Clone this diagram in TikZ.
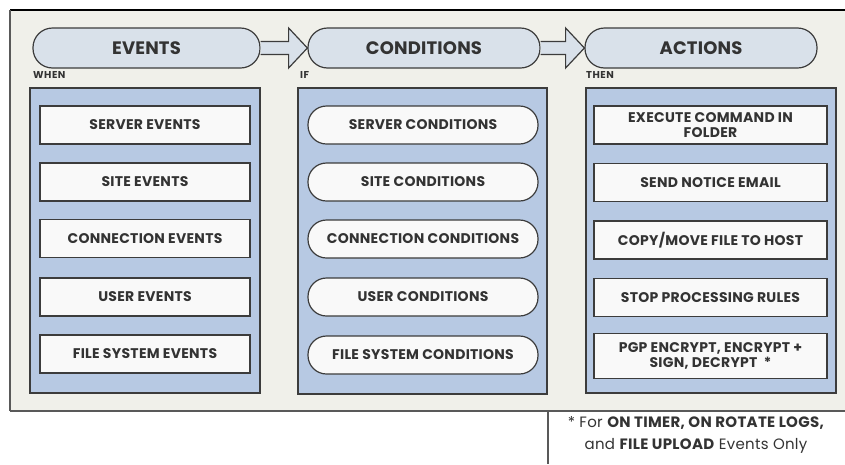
\documentclass[tikz,border=0pt]{standalone}
\usepackage{fontspec}
\setmainfont{Poppins}
\usetikzlibrary{calc}
\definecolor{panel}{HTML}{F0F0EA}
\definecolor{lane}{HTML}{B7C9E3}
\definecolor{headfill}{HTML}{D9E1EA}
\definecolor{itemfill}{HTML}{F9F9F9}
\definecolor{edge}{HTML}{3C3C3C}
\definecolor{ink}{HTML}{333333}
\tikzset{
  header/.style={draw=edge, line width=1.2pt, fill=headfill, rounded corners=19.5pt,
    minimum height=40pt, inner sep=0pt, text=ink,
    font=\fontsize{18}{18}\selectfont\bfseries\addfontfeature{LetterSpace=1}},
  lanebox/.style={draw=edge, line width=1.2pt, fill=lane, inner sep=0pt},
  itembox/.style={draw=edge, line width=1.2pt, fill=itemfill, minimum height=38pt,
    inner sep=0pt, text=ink, align=center,
    font=\fontsize{14}{15}\selectfont\bfseries\addfontfeature{LetterSpace=2}},
  itemcap/.style={itembox, rounded corners=18.5pt},
  tag/.style={anchor=west, inner sep=0pt, text=ink,
    font=\fontsize{10}{10}\selectfont\bfseries\addfontfeature{LetterSpace=5}},
  blockarrow/.style={draw=edge, line width=1.2pt, fill=headfill, line join=miter},
}
\begin{document}
\begin{tikzpicture}[x=1pt, y=-1pt]
\useasboundingbox (0,0) rectangle (845,464);
% background panel and footnote box
\fill[white] (0,0) rectangle (845,464);
\fill[panel] (10,10) rectangle (845,411);
\draw[black, line width=1.6pt] (10,10) -- (845,10);
\draw[gray!70!black, line width=1.2pt] (10,10) -- (10,411);
\draw[gray!70!black, line width=1.8pt] (10,411) -- (845,411);
\node[draw=none, fill=white, minimum width=297pt, minimum height=52pt, anchor=north west, inner sep=0pt] (note) at (548,412) {};
\draw[gray!70!black, line width=1.2pt] (note.north west) -- (note.south west);
\node[anchor=center, align=center, text=ink,
  font=\fontsize{15}{22}\selectfont\addfontfeature{LetterSpace=2}] (notetext) at (696,435)
  {* For \textbf{ON TIMER, ON ROTATE LOGS,}\\ and \textbf{FILE UPLOAD} Events Only};

% stage headers
\node[header, minimum width=227pt] (ev) at (146.5,48) {EVENTS};
\node[header, minimum width=232pt] (co) at (424,48) {CONDITIONS};
\node[header, minimum width=232pt] (ac) at (701,48) {ACTIONS};

% block arrows between stages
\draw[blockarrow] ($(ev.east)+(0,-6.5)$) -- ($(ev.east)+(28,-6.5)$) -- ($(ev.east)+(28,-20)$)
  -- (co.west) -- ($(ev.east)+(28,20)$) -- ($(ev.east)+(28,6.5)$) -- ($(ev.east)+(0,6.5)$);
\draw[blockarrow] ($(co.east)+(0,-6.5)$) -- ($(co.east)+(25,-6.5)$) -- ($(co.east)+(25,-20)$)
  -- (ac.west) -- ($(co.east)+(25,20)$) -- ($(co.east)+(25,6.5)$) -- ($(co.east)+(0,6.5)$);

% lane labels
\node[tag] (when) at (33,75) {WHEN};
\node[tag] (if) at (300,75) {IF};
\node[tag] (then) at (586,75) {THEN};

% lanes
\node[lanebox, minimum width=230pt, minimum height=305pt] (evlane) at (145,240.5) {};
\node[lanebox, minimum width=249pt, minimum height=306pt] (colane) at (422.5,241) {};
\node[lanebox, minimum width=250pt, minimum height=305pt] (aclane) at (711,240.5) {};

% events
\node[itembox, minimum width=210pt] (e1) at (145,125) {SERVER EVENTS};
\node[itembox, minimum width=210pt] (e2) at (145,182) {SITE EVENTS};
\node[itembox, minimum width=210pt] (e3) at (145,238.5) {CONNECTION EVENTS};
\node[itembox, minimum width=210pt] (e4) at (145,297) {USER EVENTS};
\node[itembox, minimum width=210pt] (e5) at (145,354) {FILE SYSTEM EVENTS};

% conditions
\node[itemcap, minimum width=230pt] (c1) at (423,125) {SERVER CONDITIONS};
\node[itemcap, minimum width=230pt] (c2) at (423,182) {SITE CONDITIONS};
\node[itemcap, minimum width=230pt] (c3) at (423,239) {CONNECTION CONDITIONS};
\node[itemcap, minimum width=230pt] (c4) at (423,297) {USER CONDITIONS};
\node[itemcap, minimum width=230pt] (c5) at (423,355) {FILE SYSTEM CONDITIONS};

% actions
\node[itembox, minimum width=233pt] (a1) at (710.5,125) {EXECUTE COMMAND IN\\FOLDER};
\node[itembox, minimum width=233pt] (a2) at (710.5,182.5) {SEND NOTICE EMAIL};
\node[itembox, minimum width=233pt] (a3) at (710.5,240) {COPY/MOVE FILE TO HOST};
\node[itembox, minimum width=233pt] (a4) at (710.5,297.5) {STOP PROCESSING RULES};
\node[itembox, minimum width=233pt, minimum height=45pt] (a5) at (710.5,356) {PGP ENCRYPT, ENCRYPT +\\SIGN, DECRYPT \ *};
\end{tikzpicture}
\end{document}
